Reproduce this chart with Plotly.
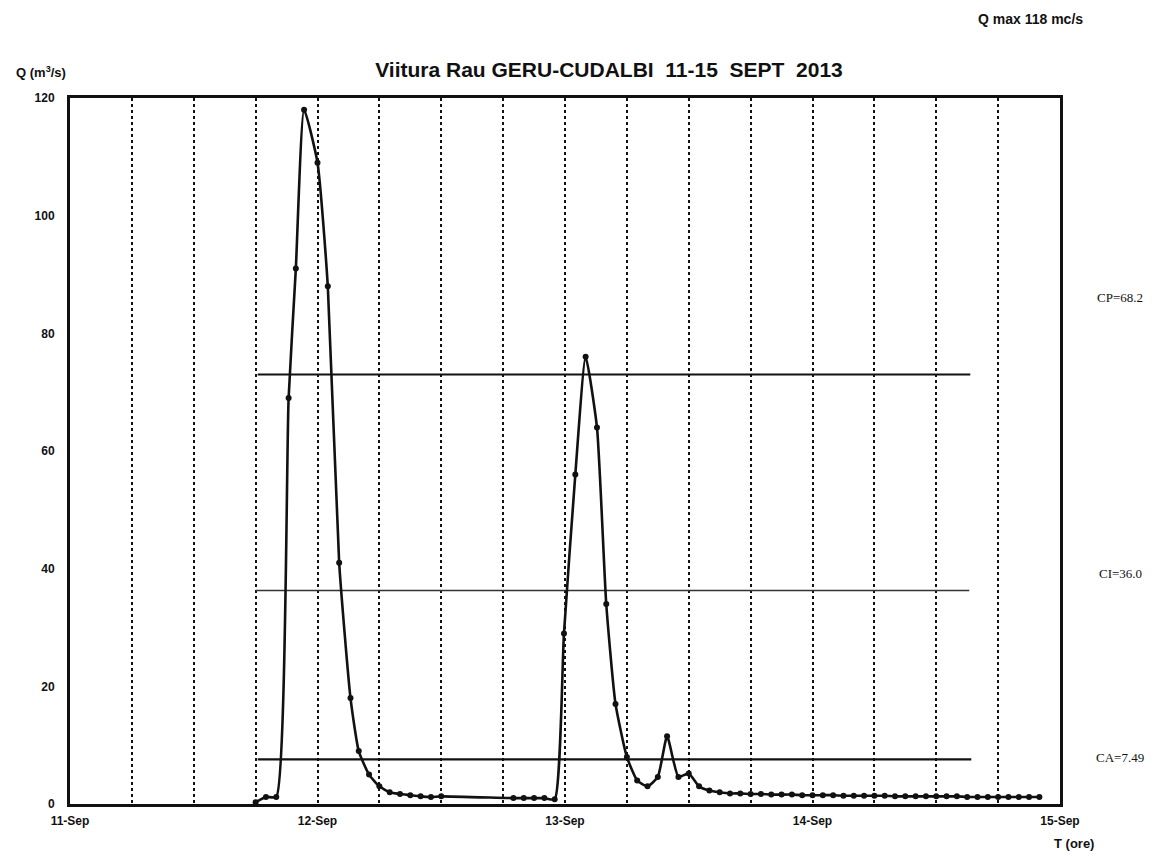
import pandas as pd
import plotly.graph_objects as go

# ---- data ----
start = pd.Timestamp("2013-09-11 00:00")
hours = [18, 19, 20, 21.2, 21.9, 22.7, 24, 25, 26.1, 27.2, 28, 29, 30, 31, 32, 33, 34, 35, 36,
         43, 44, 45, 46, 47,
         47.9, 49, 50, 51.1, 52, 52.9, 54, 55, 56, 57, 57.9, 59, 60, 61, 62, 63, 64,
         65, 66, 67, 68, 69, 70, 71, 72, 73, 74, 75, 76, 77, 78, 79, 80, 81, 82, 83, 84,
         85, 86, 87, 88, 89, 90, 91, 92, 93, 94]
discharge = [0.3, 1.2, 1.2, 69, 91, 118, 109, 88, 41, 18, 9, 5, 3, 2, 1.7, 1.5, 1.3, 1.2, 1.3,
             1.0, 1.0, 1.0, 1.0, 0.8,
             29, 56, 76, 64, 34, 17, 8, 4, 3, 4.6, 11.5, 4.6, 5.2, 3, 2.3, 2.0, 1.8,
             1.8, 1.7, 1.7, 1.6, 1.6, 1.6, 1.5, 1.5, 1.5, 1.5, 1.4, 1.4, 1.4, 1.4, 1.4, 1.3,
             1.3, 1.3, 1.3, 1.3, 1.3, 1.3, 1.2, 1.2, 1.2, 1.2, 1.2, 1.2, 1.2, 1.2]

threshold_labels = ["CP=68.2", "CI=36.0", "CA=7.49"]
threshold_levels = [73.0, 36.3, 7.6]          # level at which each line is drawn in the picture
threshold_start_h = [18.2, 18.0, 18.2]
threshold_end_h = [87.3, 87.2, 87.4]

x_range = ["2013-09-11 00:00", "2013-09-15 00:00"]
y_ticks = [0, 20, 40, 60, 80, 100, 120]

times = [start + pd.Timedelta(hours=h) for h in hours]

SANS = "Liberation Sans, Arial, sans-serif"
SERIF = "Liberation Serif, Times New Roman, serif"

# the page body adds an 8 px offset, so the figure is 8 px smaller than the window
OFF = 8
W, H = 1158 - OFF, 857 - OFF
L, T = 70 - OFF, 98 - OFF
R = W - (1060 - OFF)
B = H - (804 - OFF)
PW, PH = W - L - R, H - T - B


def px(x):  # screen pixel -> paper coordinate
    return (x - OFF - L) / PW


def py(y):
    return (H - B - (y - OFF)) / PH


fig = go.Figure()

# threshold lines
label_y_px = [297, 573, 757]
for lab, lvl, h0, h1, ly in zip(threshold_labels, threshold_levels, threshold_start_h,
                                threshold_end_h, label_y_px):
    thin = lab == "CI=36.0"
    fig.add_trace(go.Scatter(
        x=[start + pd.Timedelta(hours=h0), start + pd.Timedelta(hours=h1)],
        y=[lvl, lvl], mode="lines",
        line=dict(color="#333333" if thin else "#111111", width=1.6 if thin else 2.2),
        showlegend=False, hoverinfo="skip"))
    fig.add_annotation(x=px(1120), y=py(ly), xref="paper", yref="paper",
                       xanchor="center", yanchor="middle",
                       text=lab, showarrow=False,
                       font=dict(family=SERIF, size=13, color="#111"))

# hydrograph
fig.add_trace(go.Scatter(
    x=times, y=discharge, mode="lines+markers",
    line=dict(color="#111111", width=2.6, shape="spline", smoothing=0.5),
    marker=dict(color="#111111", size=6),
    showlegend=False))

fig.update_layout(
    width=W, height=H,
    margin=dict(l=L, r=R, t=T, b=B),
    paper_bgcolor="white", plot_bgcolor="white",
    title=dict(text="<b>Viitura Rau GERU-CUDALBI  11-15  SEPT  2013</b>",
               x=(609 - OFF) / W, xanchor="center", y=1 - (70 - OFF) / H, yanchor="middle",
               font=dict(family=SANS, size=21, color="#111")),
    font=dict(family=SANS, color="#111"),
)

fig.update_xaxes(
    type="date", range=x_range,
    tick0="2013-09-11", dtick=86400000, tickformat="%d-%b",
    tickfont=dict(family=SANS, size=12, color="#111", weight="bold"),
    showline=True, linecolor="#111", linewidth=3, mirror=True,
    showgrid=True, gridcolor="#111", gridwidth=2, griddash="dot",
    minor=dict(dtick=6 * 3600000, showgrid=True, gridcolor="#111", gridwidth=2, griddash="dot"),
    ticks="", zeroline=False, ticklabelstandoff=4,
)
fig.update_yaxes(
    range=[0, 120], tickvals=y_ticks,
    tickfont=dict(family=SANS, size=12, color="#111", weight="bold"),
    showline=True, linecolor="#111", linewidth=3, mirror=True,
    showgrid=False, zeroline=False, ticks="", ticklabelstandoff=10,
)

# extra texts
fig.add_annotation(x=px(41), y=py(72), xref="paper", yref="paper",
                   xanchor="center", yanchor="middle",
                   text="<b>Q (m<sup>3</sup>/s)</b>", showarrow=False,
                   font=dict(family=SANS, size=13, color="#111"))
fig.add_annotation(x=px(1030), y=py(9), xref="paper", yref="paper",
                   xanchor="center", yanchor="top",
                   text="<b>Q max 118 mc/s</b>", showarrow=False,
                   font=dict(family=SANS, size=14, color="#111"))
fig.add_annotation(x=px(1074), y=py(843), xref="paper", yref="paper",
                   xanchor="center", yanchor="middle",
                   text="<b>T (ore)</b>", showarrow=False,
                   font=dict(family=SANS, size=13, color="#111"))

fig.write_html("out.html")
